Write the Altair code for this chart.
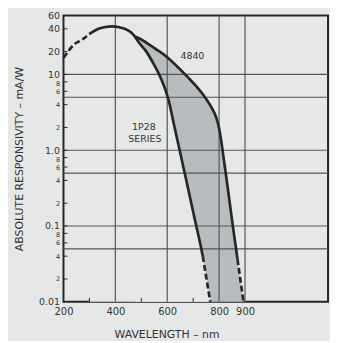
import altair as alt
import pandas as pd

# ---- data ----
common_dash_wl = [200, 242, 273, 299]
common_dash_val = [16.5, 25, 29, 34]
common_wl = [299, 338, 362, 387, 415, 441, 460, 475]
common_val = [34, 40.5, 42.3, 43, 42, 39.4, 36, 31.8]

r4840_wl = [475, 491, 529, 562, 594, 644, 682, 715, 747, 770, 789, 800, 808, 817, 826, 840, 853, 864, 871]
r4840_val = [31.8, 30, 25, 21, 17.5, 12.2, 9.0, 6.8, 4.93, 3.7, 2.7, 1.95, 1.35, 0.81, 0.49, 0.215, 0.1, 0.054, 0.0365]
r4840_dash_wl = [871, 894]
r4840_dash_val = [0.0365, 0.01]

r1p28_wl = [475, 496, 518, 548, 575, 606, 627, 648, 668, 690, 712, 732, 737]
r1p28_val = [31.8, 25, 20.3, 13.7, 9.0, 4.5, 2.1, 1.0, 0.49, 0.22, 0.1, 0.049, 0.04]
r1p28_dash_wl = [737, 766]
r1p28_dash_val = [0.04, 0.01]

x_labels = [200, 400, 600, 800, 900]
x_grid = [400, 600, 800, 900]
x_minor = [300, 500, 700]
y_ticks = [60, 40, 20, 10, 8, 6, 4, 2, 1, 0.8, 0.6, 0.4, 0.2, 0.1, 0.08, 0.06, 0.04, 0.02, 0.01]
y_tick_text = ["60", "40", "20", "10", "8", "6", "4", "2", "1.0", "8", "6", "4", "2", "0.1", "8", "6", "4", "2", "0.01"]
y_big = [60, 40, 20, 10, 1, 0.1, 0.01]
y_eight = [8, 0.8, 0.08]
y_grid = [10, 5, 1, 0.5, 0.1, 0.05]
notes_text = ["4840", "1P28", "SERIES"]
notes_wl = [697, 510, 514]
notes_val = [17.5, 2.0, 1.39]

# ---- styling ----
BG = "#e6e8e8"
SHADE = "#b8bcbf"
INK = "#262626"
GRID = "#555555"
FONT = "DejaVu Sans"
W, H = 267, 289


def frame(wl, val, name):
    return pd.DataFrame({"wl": wl, "val": val, "series": name})


solid = pd.concat([
    frame(common_wl, common_val, "common"),
    frame(r4840_wl, r4840_val, "4840"),
    frame(r1p28_wl, r1p28_val, "1P28"),
])
dashed = pd.concat([
    frame(common_dash_wl, common_dash_val, "common"),
    frame(r4840_dash_wl, r4840_dash_val, "4840"),
    frame(r1p28_dash_wl, r1p28_dash_val, "1P28"),
])
shade_df = frame(r4840_wl + r4840_dash_wl[1:], r4840_val + r4840_dash_val[1:], "4840")
cover_df = frame(common_wl + r1p28_wl[1:] + r1p28_dash_wl[1:],
                 common_val + r1p28_val[1:] + r1p28_dash_val[1:], "1P28")

xs = alt.Scale(domain=[200, 1220], nice=False, zero=False)
ys = alt.Scale(type="log", domain=[0.01, 60], nice=False)


def near(v):
    return f"abs(datum.value - {v}) < {v * 1e-6}"


label_expr = ""
for v, t in zip(y_ticks, y_tick_text):
    label_expr += f"{near(v)} ? '{t}' : "
label_expr += "''"
big_test = " || ".join(near(v) for v in y_big)
eight_test = " || ".join(near(v) for v in y_eight)

x_axis = alt.Axis(values=x_labels, title="WAVELENGTH – nm", ticks=False, domain=False, grid=False,
                  labelFont=FONT, labelFontSize=10, labelColor="#333", labelPadding=5,
                  labelFlush=False, labelOverlap=False,
                  titleFont=FONT, titleFontSize=11, titleFontWeight="normal", titleColor="#333",
                  titlePadding=12, titleX=104)
y_axis = alt.Axis(values=y_ticks, labelExpr=label_expr, title="ABSOLUTE RESPONSIVITY – mA/W",
                  ticks=False, domain=False, grid=False,
                  labelFont=FONT,
                  labelFontSize={"condition": {"test": big_test, "value": 9.5}, "value": 6.5},
                  labelOffset={"condition": {"test": eight_test, "value": 1.5}, "value": 0},
                  labelColor="#333", labelPadding=4, labelFlush=False, labelOverlap=False,
                  titleFont=FONT, titleFontSize=11, titleFontWeight="normal", titleColor="#333",
                  titleX=-44, titleY=144.5, titleBaseline="middle", titleAlign="center")

shade = alt.Chart(shade_df).mark_area(color=SHADE, interpolate="monotone").encode(
    x=alt.X("wl:Q", scale=xs, axis=x_axis),
    y=alt.Y("val:Q", scale=ys, axis=y_axis),
    y2=alt.datum(0.01),
)
cover = alt.Chart(cover_df).mark_area(color=BG, interpolate="monotone").encode(
    x=alt.X("wl:Q", scale=xs), y=alt.Y("val:Q", scale=ys), y2=alt.datum(0.01))

vgrid = alt.Chart(pd.DataFrame({"wl": x_grid})).mark_rule(color=GRID, strokeWidth=1.2).encode(
    x=alt.X("wl:Q", scale=xs))
hgrid = alt.Chart(pd.DataFrame({"val": y_grid})).mark_rule(color=GRID, strokeWidth=1.2).encode(
    y=alt.Y("val:Q", scale=ys))
yticks = alt.Chart(pd.DataFrame({"val": y_ticks[1:-1]})).mark_rule(color=INK, strokeWidth=1).encode(
    y=alt.Y("val:Q", scale=ys), x=alt.value(0), x2=alt.value(4))
xticks = alt.Chart(pd.DataFrame({"wl": x_minor})).mark_rule(color=INK, strokeWidth=1).encode(
    x=alt.X("wl:Q", scale=xs), y=alt.value(H), y2=alt.value(H - 4))

lines = alt.Chart(solid).mark_line(color=INK, strokeWidth=2.7, interpolate="monotone").encode(
    x=alt.X("wl:Q", scale=xs), y=alt.Y("val:Q", scale=ys), detail="series:N")
dlines = alt.Chart(dashed).mark_line(color=INK, strokeWidth=2.7, strokeDash=[6, 3],
                                     interpolate="monotone").encode(
    x=alt.X("wl:Q", scale=xs), y=alt.Y("val:Q", scale=ys), detail="series:N")

notes = alt.Chart(pd.DataFrame({"wl": notes_wl, "val": notes_val, "t": notes_text})).mark_text(
    font=FONT, fontSize=9.5, color="#333", align="center", baseline="middle").encode(
    x=alt.X("wl:Q", scale=xs), y=alt.Y("val:Q", scale=ys), text="t:N")

chart = alt.layer(shade, cover, vgrid, hgrid, yticks, xticks, lines, dlines, notes).properties(
    width=W, height=H, background=BG,
    autosize=alt.AutoSizeParams(type="none"),
    padding={"left": 56, "top": 6, "right": 2, "bottom": 38},
).configure_view(fill=BG, stroke=INK, strokeWidth=2)

chart.save("out.html", embed_options={"renderer": "svg", "actions": False})
